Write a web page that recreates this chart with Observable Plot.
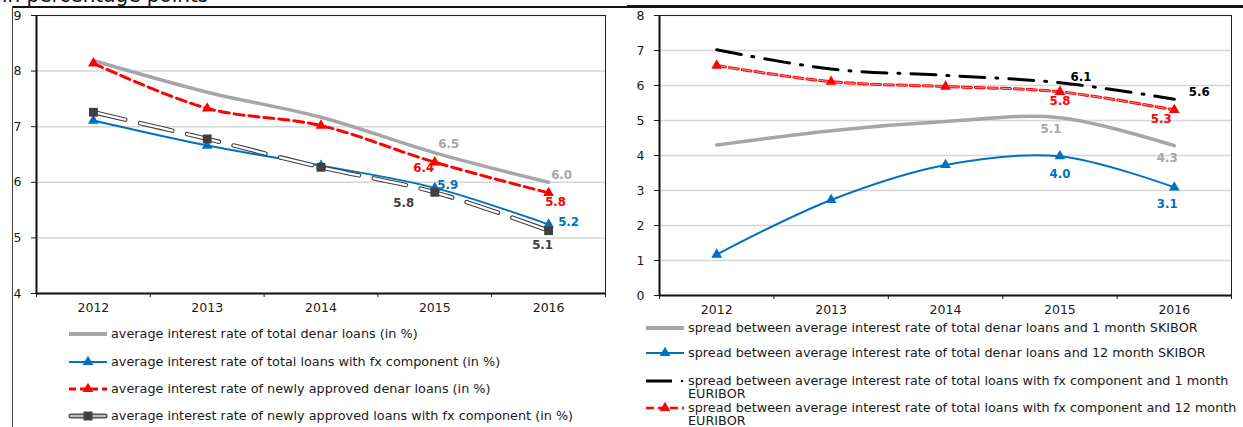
<!DOCTYPE html>
<html><head><meta charset="utf-8">
<script src="https://cdn.jsdelivr.net/npm/d3@7"></script>
<script src="https://cdn.jsdelivr.net/npm/@observablehq/plot@0.6"></script>
<style>
body{margin:0;background:#fff;font-family:"DejaVu Sans",Verdana,sans-serif;}
#root{position:relative;width:1243px;height:427px;overflow:hidden;background:#fff;}
.abs{position:absolute;}
.leg{position:absolute;font-size:12.8px;color:#1a1a1a;white-space:nowrap;line-height:13px;}
</style></head><body><div id="root"></div>
<script>
// ---------- data ----------
const years = [2012, 2013, 2014, 2015, 2016];
// left panel (in %)
const totalDenar = [8.19, 7.62, 7.17, 6.53, 6.0];
const totalFx    = [7.11, 6.66, 6.30, 5.90, 5.24];
const newDenar   = [8.14, 7.33, 7.02, 6.36, 5.81];
const newFx      = [7.26, 6.78, 6.27, 5.82, 5.13];
// right panel (in percentage points)
const spreadDenar1m  = [4.30, 4.71, 4.97, 5.08, 4.28];
const spreadDenar12m = [1.17, 2.73, 3.73, 3.98, 3.09];
const spreadFx1m     = [7.02, 6.47, 6.29, 6.08, 5.61];
const spreadFx12m    = [6.57, 6.11, 5.97, 5.82, 5.30];
const leftTicks  = [4, 5, 6, 7, 8, 9];
const rightTicks = [0, 1, 2, 3, 4, 5, 6, 7, 8];
const labelYears = [2015, 2016];
const titleText = "in percentage points";
const leftNames = [
  "average interest rate of total denar loans (in %)",
  "average interest rate of total loans with fx component (in %)",
  "average interest rate of newly approved denar loans  (in %)",
  "average interest rate of newly approved loans with fx component (in %)"
];
const rightNames = [
  "spread between average interest rate of total denar loans and 1 month SKIBOR",
  "spread between average interest rate of total denar loans and 12 month SKIBOR",
  ["spread between average interest rate of total loans with fx component and 1 month", "EURIBOR"],
  ["spread between average interest rate of total loans with fx component and 12 month", "EURIBOR"]
];

// ---------- styles ----------
const C = {gray:"#a6a6a6", blue:"#0070c0", red:"#ff0000", dark:"#404040", black:"#000000"};
const leftOffsets = {
  totalDenar: [[14,-9],[13,-7]],
  totalFx: [[13,-3],[20,-2]],
  newDenar: [[-11,6],[7,9]],
  newFx: [[-31,11],[-6,15]]
};
const rightOffsets = {
  d1: [[-9,12],[-7,12.5]],
  d12: [[0,18],[-7,17]],
  f1: [[21,-5],[25,-7]],
  f12: [[0,9],[-13,9]]
};

const rows = vals => years.map((year, i) => ({year, value: vals[i]}));
function labels(vals, offs, color) {
  return labelYears.map((yr, k) => {
    const i = years.indexOf(yr);
    return Plot.text([{year: yr, value: vals[i]}], {
      x: "year", y: "value", text: d => d.value.toFixed(1),
      dx: offs[k][0], dy: offs[k][1], fill: color,
      fontWeight: "bold", fontSize: 11.8
    });
  });
}
function axes(ticks, domainX, bottom) {
  const bounds = d3.range(domainX[0], domainX[1] + 0.01, 1);
  return [
    Plot.gridY(ticks, {stroke: "#d6d6d6", strokeOpacity: 1, strokeWidth: 1.5}),
    Plot.frame({stroke: "#222", strokeWidth: 1}),
    Plot.ruleX([domainX[0]], {stroke: "#111", strokeWidth: 2}),
    Plot.ruleY([bottom], {stroke: "#111", strokeWidth: 2}),
    Plot.axisY({ticks, label: null, tickSize: 5, tickPadding: 10, fontSize: 12.5, tickFormat: d => String(d)}),
    Plot.axisX({ticks: bounds, label: null, tickSize: 4, tickFormat: () => ""}),
    Plot.axisX({ticks: years, label: null, tickSize: 0, tickPadding: 10, fontSize: 12.5, tickFormat: d => String(d)})
  ];
}
const curve = "catmull-rom";
const domX = [2011.5, 2016.5];

const left = Plot.plot({
  width: 620, height: 316, marginLeft: 36, marginRight: 15, marginTop: 15, marginBottom: 23,
  x: {domain: domX, axis: null}, y: {domain: [4, 9], axis: null},
  style: {fontFamily: "DejaVu Sans, Verdana, sans-serif", color: "#1a1a1a", background: "transparent", overflow: "visible"},
  marks: [
    ...axes(leftTicks, domX, 4),
    Plot.line(rows(totalDenar), {x: "year", y: "value", stroke: C.gray, strokeWidth: 3.5, curve}),
    Plot.line(rows(totalFx), {x: "year", y: "value", stroke: C.blue, strokeWidth: 2, curve}),
    Plot.dot(rows(totalFx), {x: "year", y: "value", symbol: "triangle", r: 4, fill: C.blue}),
    Plot.line(rows(newDenar), {x: "year", y: "value", stroke: C.red, strokeWidth: 3, strokeDasharray: "10,5", curve}),
    Plot.dot(rows(newDenar), {x: "year", y: "value", symbol: "triangle", r: 4, fill: C.red}),
    Plot.line(rows(newFx), {x: "year", y: "value", stroke: C.dark, strokeWidth: 4.5, strokeDasharray: "33,15", curve}),
    Plot.line(rows(newFx), {x: "year", y: "value", stroke: "#ffffff", strokeWidth: 2.3, strokeDasharray: "33,15", curve}),
    Plot.dot(rows(newFx), {x: "year", y: "value", symbol: "square", r: 5, fill: C.dark}),
    ...labels(totalDenar, leftOffsets.totalDenar, C.gray),
    ...labels(newDenar, leftOffsets.newDenar, C.red),
    ...labels(totalFx, leftOffsets.totalFx, C.blue),
    ...labels(newFx, leftOffsets.newFx, C.dark)
  ]
});

const right = Plot.plot({
  width: 623, height: 318, marginLeft: 39, marginRight: 12, marginTop: 15, marginBottom: 23,
  x: {domain: domX, axis: null}, y: {domain: [0, 8], axis: null},
  style: {fontFamily: "DejaVu Sans, Verdana, sans-serif", color: "#1a1a1a", background: "transparent", overflow: "visible"},
  marks: [
    ...axes(rightTicks, domX, 0),
    Plot.line(rows(spreadDenar1m), {x: "year", y: "value", stroke: C.gray, strokeWidth: 3.5, curve}),
    Plot.line(rows(spreadDenar12m), {x: "year", y: "value", stroke: C.blue, strokeWidth: 2, curve}),
    Plot.dot(rows(spreadDenar12m), {x: "year", y: "value", symbol: "triangle", r: 4, fill: C.blue}),
    Plot.line(rows(spreadFx1m), {x: "year", y: "value", stroke: C.black, strokeWidth: 3, strokeDasharray: "25,11,2,11", curve}),
    Plot.line(rows(spreadFx12m), {x: "year", y: "value", stroke: C.red, strokeWidth: 3, strokeDasharray: "9,4", curve}),
    Plot.line(rows(spreadFx12m), {x: "year", y: "value", stroke: "#ff9090", strokeWidth: 1, strokeDasharray: "9,4", curve}),
    Plot.dot(rows(spreadFx12m), {x: "year", y: "value", symbol: "triangle", r: 4, fill: C.red}),
    ...labels(spreadFx1m, rightOffsets.f1, C.black),
    ...labels(spreadFx12m, rightOffsets.f12, C.red),
    ...labels(spreadDenar1m, rightOffsets.d1, C.gray),
    ...labels(spreadDenar12m, rightOffsets.d12, C.blue)
  ]
});

// ---------- layout ----------
const root = document.getElementById("root");
function box(css, html) { const d = document.createElement("div"); d.className = "abs"; d.style.cssText = css; if (html != null) d.innerHTML = html; root.appendChild(d); return d; }
box("left:2px;top:-15px;font-size:20px;line-height:20px;color:#111;white-space:nowrap;", titleText);
box("left:0;top:0;width:620px;height:316px;").appendChild(left);
box("left:620px;top:0;width:623px;height:318px;").appendChild(right);
box("left:12px;top:6px;width:615px;height:1.5px;background:#111;");
box("left:627px;top:5px;width:616px;height:2.5px;background:#111;");
box("left:11.5px;top:6px;width:1px;height:421px;background:#444;");

// legend swatches
function sw(kind) {
  const w = 40, h = 14, m = 7;
  const L = (stroke, sw, dash) => `<line x1="1" y1="${m}" x2="${w-1}" y2="${m}" stroke="${stroke}" stroke-width="${sw}" ${dash ? `stroke-dasharray="${dash}"` : ""}/>`;
  const tri = fill => `<path d="${d3.symbol(d3.symbolTriangle, 50)()}" transform="translate(${w/2},${m})" fill="${fill}"/>`;
  let s = "";
  if (kind === "gray") s = L(C.gray, 4);
  if (kind === "blue") s = L(C.blue, 2) + tri(C.blue);
  if (kind === "red") s = L(C.red, 3, "7,4") + tri(C.red);
  if (kind === "dark") s = `<line x1="3" y1="${m}" x2="${w-3}" y2="${m}" stroke="${C.dark}" stroke-width="5" stroke-linecap="round"/><line x1="3" y1="${m}" x2="${w-3}" y2="${m}" stroke="#bbb" stroke-width="2.6" stroke-linecap="round"/><rect x="${w/2-4.5}" y="${m-4.5}" width="9" height="9" fill="${C.dark}"/>`;
  if (kind === "black") s = `<line x1="1" y1="${m}" x2="27" y2="${m}" stroke="#000" stroke-width="3"/><circle cx="37" cy="${m}" r="1.2" fill="#000"/>`;
  if (kind === "red2") s = `<line x1="1" y1="${m}" x2="${w-1}" y2="${m}" stroke="${C.red}" stroke-width="2.5" stroke-dasharray="8,4"/>` + tri(C.red);
  return `<svg width="${w}" height="${h}" style="display:block">${s}</svg>`;
}
const leftKinds = ["gray", "blue", "red", "dark"];
const leftRowY = [334, 361.5, 388.5, 415.5];
leftNames.forEach((t, i) => {
  box(`left:68px;top:${leftRowY[i]-7}px;`, sw(leftKinds[i]));
  const d = document.createElement("div"); d.className = "leg"; d.style.left = "111px"; d.style.top = (leftRowY[i]-7) + "px"; d.textContent = t; root.appendChild(d);
});
const rightKinds = ["gray", "blue", "black", "red2"];
const rightRowY = [328, 353, 381, 408];
rightNames.forEach((t, i) => {
  box(`left:645px;top:${rightRowY[i]-7}px;`, sw(rightKinds[i]));
  const d = document.createElement("div"); d.className = "leg"; d.style.left = "688px"; d.style.top = (rightRowY[i]-7) + "px";
  if (Array.isArray(t)) { t.forEach((line, j) => { if (j) d.appendChild(document.createElement("br")); d.appendChild(document.createTextNode(line)); }); }
  else d.textContent = t;
  root.appendChild(d);
});
</script></body></html>
